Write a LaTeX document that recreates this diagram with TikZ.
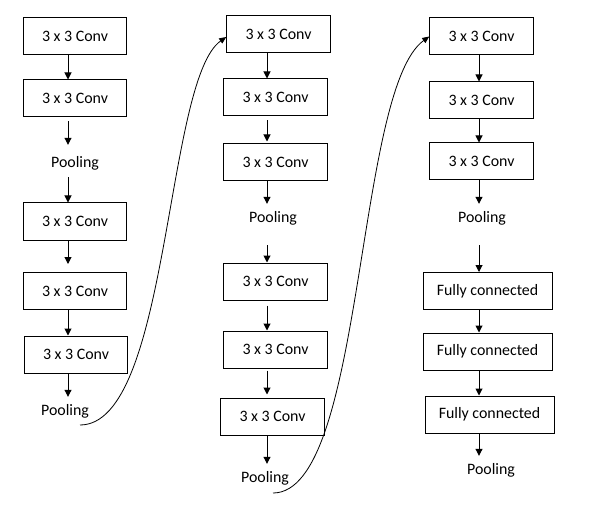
\documentclass[tikz,border=0pt]{standalone}
\usepackage{fontspec}
\setmainfont{Carlito}
\usetikzlibrary{arrows.meta}
\tikzstyle{convbox} = [rectangle, minimum width=103.5bp, minimum height=37bp, inner sep=0pt, text centered, draw=black, line width=1bp]
\tikzstyle{fcbox} = [convbox, minimum width=129bp]
\tikzstyle{pooltext} = [inner sep=0pt, minimum height=28bp]
\tikzstyle{arrow} = [line width=1bp, -{Triangle[length=7bp,width=7bp]}]
\tikzstyle{curve} = [line width=0.8bp, -{Triangle[length=7bp,width=6bp]}]

\begin{document}
\begin{tikzpicture}[x=1bp, y=-1bp, font=\fontsize{15.9bp}{19bp}\selectfont]
        \useasboundingbox (0,0) rectangle (600,506);
        % Nodes, first column
        \node (c1b1) [convbox] at (75,36.5) {3 x 3 Conv};
        \node (c1b2) [convbox] at (75,98.5) {3 x 3 Conv};
        \node (c1p1) [pooltext] at (75,163) {Pooling};
        \node (c1b3) [convbox] at (75,221.5) {3 x 3 Conv};
        \node (c1b4) [convbox] at (75,291) {3 x 3 Conv};
        \node (c1b5) [convbox] at (76,354.5) {3 x 3 Conv};
        \node (c1p2) [pooltext] at (65,411) {Pooling};

        % Nodes, second column
        \node (c2b1) [convbox] at (278.5,34.5) {3 x 3 Conv};
        \node (c2b2) [convbox] at (275.5,97.5) {3 x 3 Conv};
        \node (c2b3) [convbox] at (275.5,162.5) {3 x 3 Conv};
        \node (c2p1) [pooltext] at (273,218) {Pooling};
        \node (c2b4) [convbox] at (275.5,281.5) {3 x 3 Conv};
        \node (c2b5) [convbox] at (275.5,349.5) {3 x 3 Conv};
        \node (c2b6) [convbox] at (272.5,416.5) {3 x 3 Conv};
        \node (c2p2) [pooltext] at (265,478) {Pooling};

        % Nodes, third column
        \node (c3b1) [convbox] at (481.5,36.5) {3 x 3 Conv};
        \node (c3b2) [convbox] at (481.5,100.5) {3 x 3 Conv};
        \node (c3b3) [convbox] at (481.5,161.5) {3 x 3 Conv};
        \node (c3p1) [pooltext] at (482,218) {Pooling};
        \node (c3f1) [fcbox] at (487.5,291) {Fully connected};
        \node (c3f2) [fcbox] at (487.5,351.5) {Fully connected};
        \node (c3f3) [fcbox] at (489.5,414.5) {Fully connected};
        \node (c3p2) [pooltext] at (491,470) {Pooling};

        % Arrow axes and curve tails
        \coordinate (ax1) at (68,0);
        \coordinate (ax2) at (267,0);
        \coordinate (ax3) at (479,0);
        \coordinate (tail1) at ([shift={(15,14)}]c1p2.center);
        \coordinate (tail2) at ([shift={(8,15)}]c2p2.center);

        % Arrows
        \draw [arrow] (c1b1.south -| ax1) -- (c1b2.north -| ax1);
        \draw [arrow, shorten <=4bp, shorten >=4bp] (c1b2.south -| ax1) -- (c1p1.north -| ax1);
        \draw [arrow] (c1p1.south -| ax1) -- (c1b3.north -| ax1);
        \draw [arrow, shorten >=8bp] (c1b3.south -| ax1) -- (c1b4.north -| ax1);
        \draw [arrow] (c1b4.south -| ax1) -- (c1b5.north -| ax1);
        \draw [arrow] (c1b5.south -| ax1) -- (c1p2.north -| ax1);

        \draw [arrow] (c2b1.south -| ax2) -- (c2b2.north -| ax2);
        \draw [arrow, shorten <=4bp, shorten >=2bp] (c2b2.south -| ax2) -- (c2b3.north -| ax2);
        \draw [arrow] (c2b3.south -| ax2) -- (c2p1.north -| ax2);
        \draw [arrow, shorten <=13bp] (c2p1.south -| ax2) -- (c2b4.north -| ax2);
        \draw [arrow, shorten <=5bp] (c2b4.south -| ax2) -- (c2b5.north -| ax2);
        \draw [arrow, shorten <=2bp, shorten >=3bp] (c2b5.south -| ax2) -- (c2b6.north -| ax2);
        \draw [arrow] (c2b6.south -| ax2) -- (c2p2.north -| ax2);

        \draw [arrow] (c3b1.south -| ax3) -- (c3b2.north -| ax3);
        \draw [arrow] (c3b2.south -| ax3) -- (c3b3.north -| ax3);
        \draw [arrow] (c3b3.south -| ax3) -- (c3p1.north -| ax3);
        \draw [arrow, shorten <=13bp] (c3p1.south -| ax3) -- (c3f1.north -| ax3);
        \draw [arrow] (c3f1.south -| ax3) -- (c3f2.north -| ax3);
        \draw [arrow] (c3f2.south -| ax3) -- (c3f3.north -| ax3);
        \draw [arrow] (c3f3.south -| ax3) -- (c3p2.north -| ax3);

        % Curves between columns
        \draw [curve] (tail1) .. controls (170,425) and (165,80) .. ([yshift=-2.5bp]c2b1.west);
        \draw [curve] (tail2) .. controls (365,493) and (355,90) .. (c3b1.west);
    \end{tikzpicture}
\end{document}
